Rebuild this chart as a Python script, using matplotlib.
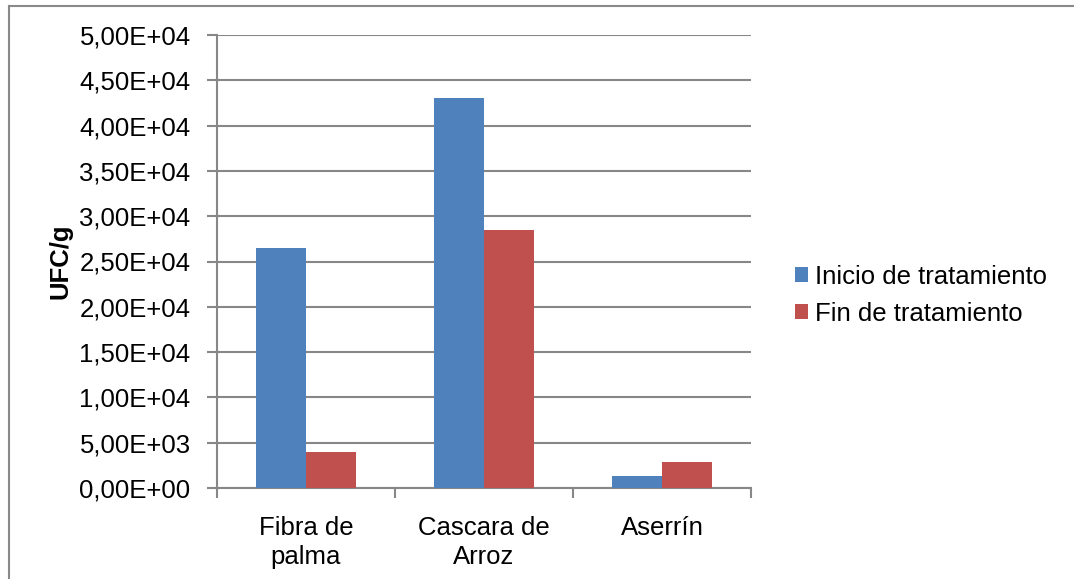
import matplotlib
matplotlib.use("Agg")
import matplotlib.pyplot as plt
import matplotlib.ticker as ticker
from matplotlib.lines import Line2D
import numpy as np

materiales = ["Fibra de\npalma", "Cascara de\nArroz", "Aserrín"]
inicio = [26500, 43000, 1300]   # UFC/g al inicio del tratamiento
fin = [4000, 28500, 2900]       # UFC/g al final del tratamiento
series = ["Inicio de tratamiento", "Fin de tratamiento"]

plt.rcParams["font.family"] = ["Liberation Sans", "DejaVu Sans"]
fs = 18.5
grey = "#878787"

fig = plt.figure(figsize=(10.74, 5.79), dpi=100)
ax = fig.add_axes([217 / 1074, 1 - 488 / 579, 534 / 1074, 453 / 579])

x = np.arange(len(materiales))
w = 0.281
ax.bar(x - w / 2, inicio, w, color="#4F81BD", label=series[0], zorder=3)
ax.bar(x + w / 2, fin, w, color="#C0504D", label=series[1], zorder=3)

ax.set_xlim(-0.5, len(materiales) - 0.5)
ax.set_ylim(0, 50000)
ax.yaxis.set_major_locator(ticker.MultipleLocator(5000))
ax.yaxis.set_major_formatter(ticker.FuncFormatter(lambda v, p: f"{v:.2E}".replace(".", ",")))
ax.set_xticks(x)
ax.set_xticklabels(materiales, fontsize=fs, linespacing=1.3)
ax.set_xticks(np.arange(-0.5, len(materiales)), minor=True)
ax.tick_params(axis="x", which="major", length=0, pad=20)
ax.tick_params(axis="x", which="minor", length=7, width=1.5, color=grey, direction="out")
ax.tick_params(axis="y", length=7, width=1.5, color=grey, labelsize=fs, pad=12)

ax.grid(axis="y", color=grey, linewidth=1.5, zorder=0)
for s in ["top", "right"]:
    ax.spines[s].set_visible(False)
for s in ["left", "bottom"]:
    ax.spines[s].set_color(grey)
    ax.spines[s].set_linewidth(1.5)

ax.set_ylabel("UFC/g", fontsize=fs, fontweight="bold")
ax.yaxis.set_label_coords(72 / 1074, 1 - 261 / 579, transform=fig.transFigure)

leg = fig.legend(loc="upper left", bbox_to_anchor=(782 / 1074, 1 - 252 / 579),
                 frameon=False, fontsize=fs, handlelength=0.5, handleheight=0.5,
                 handletextpad=0.3, labelspacing=0.5, borderpad=0)

# marco del gráfico (solo borde izquierdo y superior visibles)
fig.add_artist(Line2D([8.5 / 1074, 8.5 / 1074], [0, 1 - 5.5 / 579], transform=fig.transFigure,
                      color="#898989", lw=1.5))
fig.add_artist(Line2D([8.5 / 1074, 1], [1 - 5.5 / 579, 1 - 5.5 / 579], transform=fig.transFigure,
                      color="#898989", lw=1.5))

fig.savefig("out.png", dpi=100)
